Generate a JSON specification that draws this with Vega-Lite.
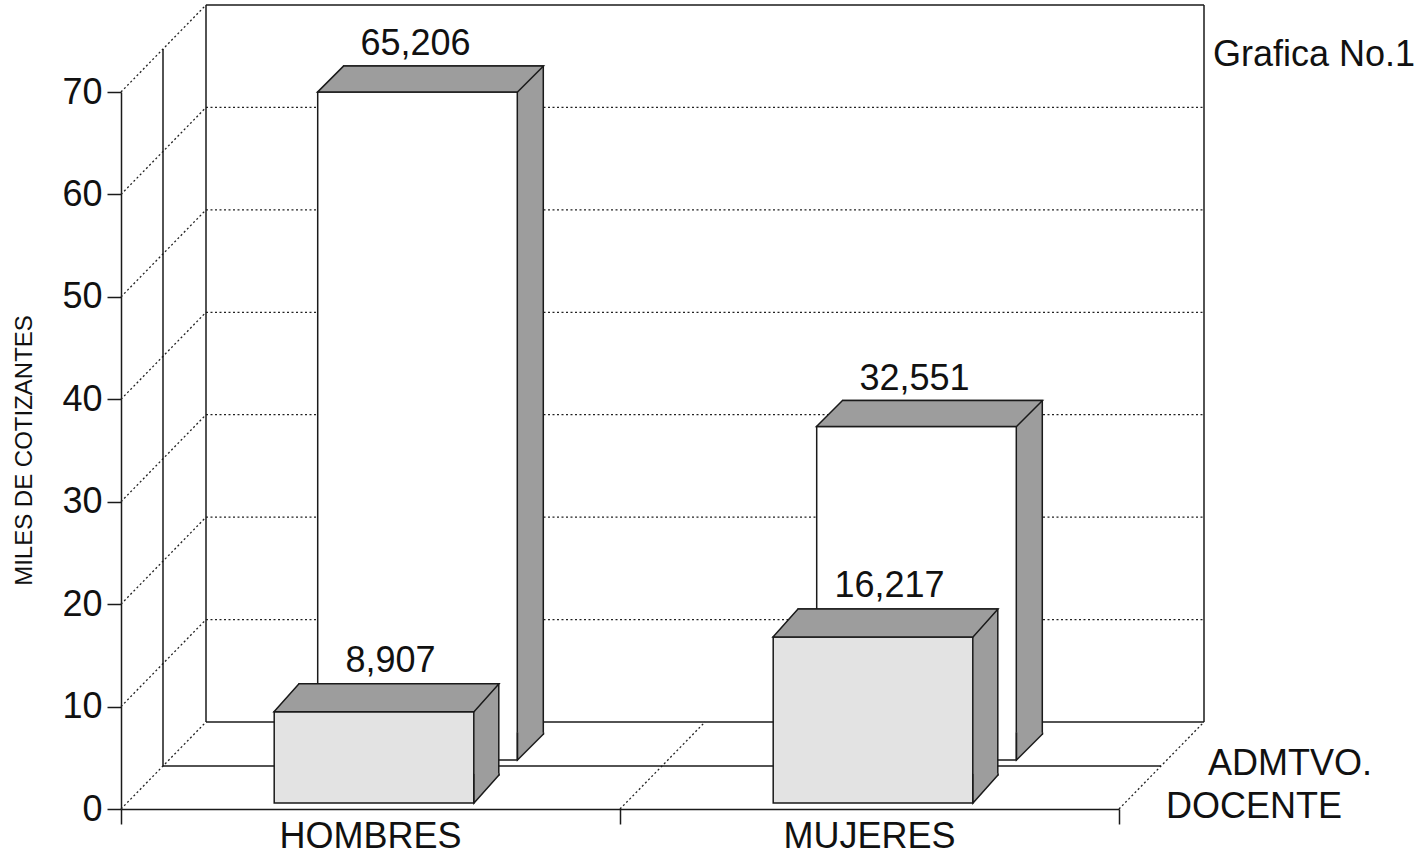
{
  "$schema": "https://vega.github.io/schema/vega-lite/v6.json",
  "width": 998,
  "height": 717,
  "autosize": "none",
  "padding": {"left": 121, "top": 92, "right": 307, "bottom": 50},
  "background": "white",
  "config": {"font": "Liberation Sans", "view": {"stroke": null}},
  "datasets": {
    "datos": [
      {"sexo": "HOMBRES", "tipo": "DOCENTE", "cotizantes": 8907},
      {"sexo": "HOMBRES", "tipo": "ADMTVO.", "cotizantes": 65206},
      {"sexo": "MUJERES", "tipo": "DOCENTE", "cotizantes": 16217},
      {"sexo": "MUJERES", "tipo": "ADMTVO.", "cotizantes": 32551}
    ],
    "marcas": [
      {"v": 0}, {"v": 10000}, {"v": 20000}, {"v": 30000},
      {"v": 40000}, {"v": 50000}, {"v": 60000}, {"v": 70000}
    ],
    "uno": [{"k": 1}]
  },
  "data": {"name": "datos"},
  "layer": [
    {
      "data": {"name": "marcas"},
      "transform": [{"filter": "datum.v > 0 && datum.v < 70000"}],
      "mark": {"type": "rule", "stroke": "#222", "strokeWidth": 1.3, "strokeDash": [2, 2.5], "xOffset": 85, "x2Offset": 85, "yOffset": -87, "y2Offset": -87},
      "encoding": {
        "x": {"datum": "HOMBRES", "type": "nominal", "bandPosition": 0},
        "x2": {"datum": "MUJERES", "bandPosition": 1},
        "y": {"field": "v", "type": "quantitative", "title": "MILES DE COTIZANTES"}
      }
    },
    {
      "data": {"name": "marcas"},
      "transform": [{"filter": "datum.v == 0 || datum.v == 70000"}],
      "mark": {"type": "rule", "stroke": "#1a1a1a", "strokeWidth": 1.5, "xOffset": 85, "x2Offset": 85, "yOffset": -87, "y2Offset": -87},
      "encoding": {
        "x": {"datum": "HOMBRES", "type": "nominal", "bandPosition": 0},
        "x2": {"datum": "MUJERES", "bandPosition": 1},
        "y": {"field": "v", "type": "quantitative", "title": "MILES DE COTIZANTES"}
      }
    },
    {
      "data": {"name": "uno"},
      "mark": {"type": "rule", "stroke": "#1a1a1a", "strokeWidth": 1.5, "xOffset": 85, "yOffset": -87, "y2Offset": -87},
      "encoding": {
        "x": {"datum": "HOMBRES", "type": "nominal", "bandPosition": 0},
        "y": {"datum": 0, "type": "quantitative"},
        "y2": {"datum": 70000}
      }
    },
    {
      "data": {"name": "uno"},
      "mark": {"type": "rule", "stroke": "#1a1a1a", "strokeWidth": 1.5, "xOffset": 85, "yOffset": -87, "y2Offset": -87},
      "encoding": {
        "x": {"datum": "MUJERES", "type": "nominal", "bandPosition": 1},
        "y": {"datum": 0, "type": "quantitative"},
        "y2": {"datum": 70000}
      }
    },
    {
      "data": {"name": "marcas"},
      "mark": {"type": "rule", "stroke": "#222", "strokeWidth": 1.3, "strokeDash": [2, 2.5], "x2Offset": 85, "y2Offset": -87},
      "encoding": {
        "x": {"datum": "HOMBRES", "type": "nominal", "bandPosition": 0},
        "x2": {"datum": "HOMBRES", "bandPosition": 0},
        "y": {"field": "v", "type": "quantitative", "title": "MILES DE COTIZANTES"},
        "y2": {"field": "v"}
      }
    },
    {
      "data": {"name": "uno"},
      "mark": {"type": "rule", "stroke": "#222", "strokeWidth": 1.3, "strokeDash": [2, 2.5], "x2Offset": 85, "y2Offset": -87},
      "encoding": {
        "x": {"datum": "MUJERES", "type": "nominal", "bandPosition": 0},
        "x2": {"datum": "MUJERES", "bandPosition": 0},
        "y": {"datum": 0, "type": "quantitative"},
        "y2": {"datum": 0}
      }
    },
    {
      "data": {"name": "uno"},
      "mark": {"type": "rule", "stroke": "#222", "strokeWidth": 1.3, "strokeDash": [2, 2.5], "x2Offset": 85, "y2Offset": -87},
      "encoding": {
        "x": {"datum": "MUJERES", "type": "nominal", "bandPosition": 1},
        "x2": {"datum": "MUJERES", "bandPosition": 1},
        "y": {"datum": 0, "type": "quantitative"},
        "y2": {"datum": 0}
      }
    },
    {
      "data": {"name": "uno"},
      "mark": {"type": "rule", "stroke": "#1a1a1a", "strokeWidth": 1.5, "xOffset": 42, "yOffset": -43, "y2Offset": -43},
      "encoding": {
        "x": {"datum": "HOMBRES", "type": "nominal", "bandPosition": 0},
        "y": {"datum": 0, "type": "quantitative"},
        "y2": {"datum": 70000}
      }
    },
    {
      "data": {"name": "uno"},
      "mark": {"type": "rule", "stroke": "#1a1a1a", "strokeWidth": 1.5, "xOffset": 42, "x2Offset": 42, "yOffset": -43, "y2Offset": -43},
      "encoding": {
        "x": {"datum": "HOMBRES", "type": "nominal", "bandPosition": 0},
        "x2": {"datum": "MUJERES", "bandPosition": 1},
        "y": {"datum": 0, "type": "quantitative"},
        "y2": {"datum": 0}
      }
    },
    {
      "transform": [{"filter": "datum.tipo == 'ADMTVO.'"}],
      "mark": {"type": "bar", "width": {"band": 0.4}, "fill": "#9d9d9d", "stroke": "#1a1a1a", "strokeWidth": 1.5, "xOffset": 73, "x2Offset": 73, "yOffset": -75, "y2Offset": -75},
      "encoding": {
        "x": {"field": "sexo", "type": "nominal"},
        "y": {"field": "cotizantes", "type": "quantitative", "title": "MILES DE COTIZANTES"},
        "y2": {"datum": 0}
      }
    },
    {
      "transform": [{"filter": "datum.tipo == 'ADMTVO.'"}],
      "mark": {"type": "bar", "width": {"band": 0.4}, "fill": "#ffffff", "stroke": "#1a1a1a", "strokeWidth": 1.5, "xOffset": 47, "x2Offset": 47, "yOffset": -49, "y2Offset": -49},
      "encoding": {
        "x": {
          "field": "sexo", "type": "nominal",
          "scale": {"domain": ["HOMBRES", "MUJERES"], "paddingInner": 0, "paddingOuter": 0},
          "axis": {"title": null, "bandPosition": 1, "tickExtra": true, "tickSize": 15, "tickColor": "#1a1a1a", "tickWidth": 1.5, "domainColor": "#1a1a1a", "domainWidth": 1.5, "labelAngle": 0, "labelAlign": "center", "labelBaseline": "alphabetic", "labelLimit": 0, "labelFontSize": 36, "labelColor": "#111", "labelPadding": 23, "labelFont": "Liberation Sans"}
        },
        "y": {
          "field": "cotizantes", "type": "quantitative", "title": "MILES DE COTIZANTES",
          "scale": {"domain": [0, 70000], "nice": false, "zero": true},
          "axis": {"values": [0, 10000, 20000, 30000, 40000, 50000, 60000, 70000], "labelExpr": "format(datum.value / 1000, 'd')", "grid": false, "tickSize": 14, "tickColor": "#1a1a1a", "tickWidth": 1.5, "domainColor": "#1a1a1a", "domainWidth": 1.5, "labelFontSize": 36, "labelColor": "#111", "labelPadding": 5, "labelFont": "Liberation Sans", "titleFont": "Liberation Sans", "titleFontSize": 24, "titleFontWeight": "normal", "titleColor": "#111", "titleX": -97, "titleY": 358, "titleAngle": 270, "titleAlign": "center", "titleBaseline": "middle"}
        },
        "y2": {"datum": 0}
      }
    },
    {
      "transform": [{"filter": "datum.tipo == 'ADMTVO.'"}],
      "mark": {"type": "point", "shape": "M-100,0L-74,-26L126,-26L100,0Z", "size": 4, "filled": true, "opacity": 1, "fill": "#9d9d9d", "stroke": "#1a1a1a", "strokeWidth": 1.5, "xOffset": 47, "yOffset": -49},
      "encoding": {
        "x": {"field": "sexo", "type": "nominal"},
        "y": {"field": "cotizantes", "type": "quantitative", "title": "MILES DE COTIZANTES"}
      }
    },
    {
      "transform": [{"filter": "datum.tipo == 'ADMTVO.'"}],
      "mark": {"type": "point", "shape": "M126,-27.5L126,-26L100,0L100,-27.5", "size": 4, "filled": true, "opacity": 1, "fill": "#9d9d9d", "stroke": "#1a1a1a", "strokeWidth": 1.5, "xOffset": 47, "yOffset": -49},
      "encoding": {
        "x": {"field": "sexo", "type": "nominal"},
        "y": {"datum": 0, "type": "quantitative"}
      }
    },
    {
      "transform": [{"filter": "datum.tipo == 'DOCENTE'"}],
      "mark": {"type": "bar", "width": {"band": 0.4}, "fill": "#9d9d9d", "stroke": "#1a1a1a", "strokeWidth": 1.5, "xOffset": 28.5, "x2Offset": 28.5, "yOffset": -34, "y2Offset": -34},
      "encoding": {
        "x": {"field": "sexo", "type": "nominal"},
        "y": {"field": "cotizantes", "type": "quantitative", "title": "MILES DE COTIZANTES"},
        "y2": {"datum": 0}
      }
    },
    {
      "transform": [{"filter": "datum.tipo == 'DOCENTE'"}],
      "mark": {"type": "bar", "width": {"band": 0.4}, "fill": "#e3e3e3", "stroke": "#1a1a1a", "strokeWidth": 1.5, "xOffset": 3.5, "x2Offset": 3.5, "yOffset": -6, "y2Offset": -6},
      "encoding": {
        "x": {"field": "sexo", "type": "nominal"},
        "y": {"field": "cotizantes", "type": "quantitative", "title": "MILES DE COTIZANTES"},
        "y2": {"datum": 0}
      }
    },
    {
      "transform": [{"filter": "datum.tipo == 'DOCENTE'"}],
      "mark": {"type": "point", "shape": "M-100,0L-75,-28L125,-28L100,0Z", "size": 4, "filled": true, "opacity": 1, "fill": "#9d9d9d", "stroke": "#1a1a1a", "strokeWidth": 1.5, "xOffset": 3.5, "yOffset": -6},
      "encoding": {
        "x": {"field": "sexo", "type": "nominal"},
        "y": {"field": "cotizantes", "type": "quantitative", "title": "MILES DE COTIZANTES"}
      }
    },
    {
      "transform": [{"filter": "datum.tipo == 'DOCENTE'"}],
      "mark": {"type": "point", "shape": "M125,-29.5L125,-28L100,0L100,-29.5", "size": 4, "filled": true, "opacity": 1, "fill": "#9d9d9d", "stroke": "#1a1a1a", "strokeWidth": 1.5, "xOffset": 3.5, "yOffset": -6},
      "encoding": {
        "x": {"field": "sexo", "type": "nominal"},
        "y": {"datum": 0, "type": "quantitative"}
      }
    },
    {
      "transform": [{"filter": "datum.tipo == 'ADMTVO.'"}],
      "mark": {"type": "text", "fontSize": 36, "color": "#111", "align": "center", "baseline": "alphabetic", "xOffset": 45, "yOffset": -86},
      "encoding": {
        "x": {"field": "sexo", "type": "nominal"},
        "y": {"field": "cotizantes", "type": "quantitative", "title": "MILES DE COTIZANTES"},
        "text": {"field": "cotizantes", "type": "quantitative", "format": ",d"}
      }
    },
    {
      "transform": [{"filter": "datum.tipo == 'DOCENTE'"}],
      "mark": {"type": "text", "fontSize": 36, "color": "#111", "align": "center", "baseline": "alphabetic", "xOffset": 20, "yOffset": -46},
      "encoding": {
        "x": {"field": "sexo", "type": "nominal"},
        "y": {"field": "cotizantes", "type": "quantitative", "title": "MILES DE COTIZANTES"},
        "text": {"field": "cotizantes", "type": "quantitative", "format": ",d"}
      }
    },
    {
      "data": {"values": [{"serie": "DOCENTE"}]},
      "mark": {"type": "text", "fontSize": 36, "color": "#111", "align": "left", "baseline": "alphabetic", "xOffset": 47, "yOffset": 9},
      "encoding": {
        "x": {"datum": "MUJERES", "type": "nominal", "bandPosition": 1},
        "y": {"datum": 0, "type": "quantitative"},
        "text": {"field": "serie"}
      }
    },
    {
      "data": {"values": [{"serie": "ADMTVO."}]},
      "mark": {"type": "text", "fontSize": 36, "color": "#111", "align": "left", "baseline": "alphabetic", "xOffset": 89, "yOffset": -34},
      "encoding": {
        "x": {"datum": "MUJERES", "type": "nominal", "bandPosition": 1},
        "y": {"datum": 0, "type": "quantitative"},
        "text": {"field": "serie"}
      }
    },
    {
      "data": {"values": [{"rotulo": "Grafica No.1"}]},
      "mark": {"type": "text", "fontSize": 36, "color": "#111", "align": "left", "baseline": "alphabetic", "xOffset": 94, "yOffset": -26},
      "encoding": {
        "x": {"datum": "MUJERES", "type": "nominal", "bandPosition": 1},
        "y": {"datum": 70000, "type": "quantitative"},
        "text": {"field": "rotulo"}
      }
    }
  ]
}
